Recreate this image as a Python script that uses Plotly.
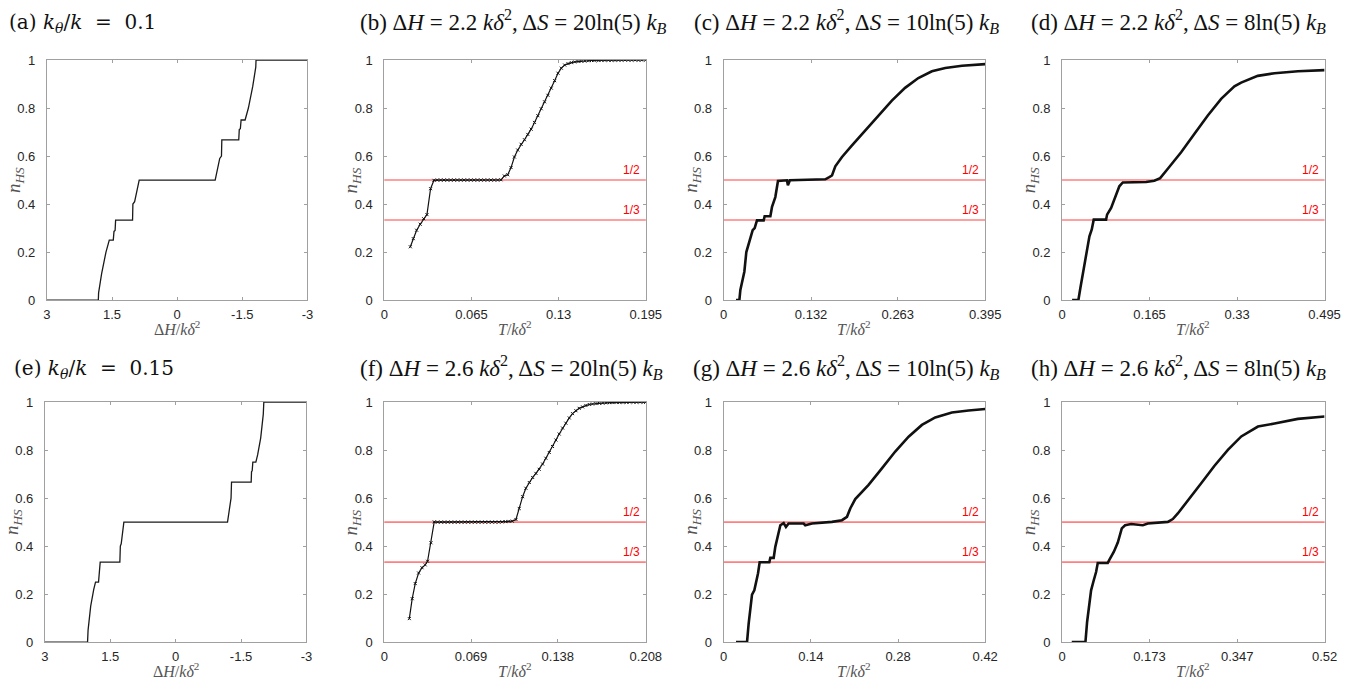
import plotly.graph_objects as go

W, H = 1351, 689
# the photographed picture is slightly scaled/offset relative to the page; compensate
SX, OX = 0.987, 4.0
SY, OY = 0.978, 7.0

# ---------------- data ----------------
# (a) k_theta/k = 0.1
a_dH = [3, 1.816, 1.81, 1.74, 1.64, 1.564, 1.472, 1.455, 1.43, 1.418, 1.028, 1.02, 0.98, 0.875,
        -0.875, -0.98, -1.02, -1.028, -1.418, -1.43, -1.455, -1.472, -1.564, -1.64, -1.74, -1.81, -1.816, -3]
a_n = [0, 0, 0.03, 0.11, 0.2, 0.25, 0.25, 0.286, 0.29, 0.333, 0.333, 0.4, 0.41, 0.5,
       0.5, 0.59, 0.6, 0.667, 0.667, 0.71, 0.714, 0.75, 0.75, 0.8, 0.89, 0.97, 1, 1]
# (e) k_theta/k = 0.15
e_dH = [3, 2.022, 2.01, 1.95, 1.88, 1.839, 1.77, 1.755, 1.74, 1.732, 1.281, 1.27, 1.25, 1.189,
        -1.189, -1.25, -1.27, -1.281, -1.732, -1.74, -1.755, -1.77, -1.839, -1.88, -1.95, -2.01, -2.022, -3]
e_n = [0, 0, 0.05, 0.15, 0.22, 0.25, 0.25, 0.286, 0.29, 0.333, 0.333, 0.4, 0.41, 0.5,
       0.5, 0.59, 0.6, 0.667, 0.667, 0.71, 0.714, 0.75, 0.75, 0.78, 0.85, 0.95, 1, 1]

# (b) dH = 2.2, dS = 20 ln5
b_T = [0.0194, 0.0216, 0.0241, 0.0268, 0.0293, 0.0318, 0.0345, 0.037, 0.0395, 0.042, 0.0445, 0.047,
       0.0495, 0.052, 0.0545, 0.057, 0.0595, 0.062, 0.0645, 0.067, 0.0695, 0.072, 0.0745, 0.077,
       0.0795, 0.082, 0.0845, 0.087, 0.0895, 0.092, 0.0945, 0.097, 0.0995, 0.102, 0.1045, 0.107,
       0.1095, 0.112, 0.1145, 0.117, 0.1195, 0.122, 0.1245, 0.127, 0.1295, 0.132, 0.1345, 0.137,
       0.1395, 0.142, 0.1445, 0.147, 0.1495, 0.152, 0.1545, 0.157, 0.1595, 0.162, 0.1645, 0.167,
       0.1695, 0.172, 0.1745, 0.177, 0.1795, 0.182, 0.1845, 0.187, 0.1895, 0.192, 0.195]
b_n = [0.222, 0.256, 0.291, 0.316, 0.339, 0.356, 0.464, 0.499, 0.5, 0.5, 0.5, 0.5,
       0.5, 0.5, 0.5, 0.5, 0.5, 0.5, 0.5, 0.5, 0.5, 0.5, 0.5, 0.5,
       0.5, 0.5, 0.5, 0.501, 0.517, 0.522, 0.552, 0.596, 0.625, 0.649, 0.668, 0.69,
       0.712, 0.74, 0.768, 0.797, 0.826, 0.853, 0.883, 0.914, 0.945, 0.966, 0.979, 0.985,
       0.989, 0.992, 0.994, 0.995, 0.996, 0.997, 0.998, 0.998, 0.998, 0.999, 0.999, 0.999,
       0.999, 0.999, 1.0, 1.0, 1.0, 1.0, 1.0, 1.0, 1.0, 1.0, 1.0]

# (c) dH = 2.2, dS = 10 ln5
c_T = [0.0186, 0.0237, 0.0252, 0.0287, 0.0312, 0.0342, 0.0377, 0.0403, 0.0438, 0.0468, 0.0503, 0.0604,
       0.0619, 0.0705, 0.073, 0.078, 0.082, 0.0956, 0.097, 0.1, 0.115, 0.13, 0.1535, 0.1595, 0.1636,
       0.1686, 0.1787, 0.1938, 0.214, 0.234, 0.254, 0.274, 0.294, 0.3145, 0.3347, 0.36, 0.395]
c_n = [0, 0, 0.042, 0.09, 0.118, 0.2, 0.235, 0.252, 0.291, 0.3, 0.332, 0.332,
       0.349, 0.349, 0.388, 0.429, 0.496, 0.499, 0.478, 0.499, 0.5, 0.5, 0.503, 0.512, 0.519,
       0.557, 0.596, 0.644, 0.706, 0.769, 0.831, 0.884, 0.925, 0.953, 0.967, 0.976, 0.983]

# (d) dH = 2.2, dS = 8 ln5
d_T = [0.0189, 0.0308, 0.0346, 0.039, 0.0434, 0.0465, 0.0516, 0.056, 0.0597, 0.083, 0.0849, 0.0925,
       0.1, 0.108, 0.1145, 0.149, 0.1585, 0.174, 0.185, 0.1994, 0.2245, 0.2497, 0.2748, 0.3, 0.325,
       0.3377, 0.369, 0.4006, 0.4447, 0.495]
d_n = [0, 0, 0.051, 0.107, 0.155, 0.19, 0.266, 0.294, 0.335, 0.335, 0.356, 0.384,
       0.425, 0.474, 0.49, 0.494, 0.492, 0.497, 0.508, 0.547, 0.616, 0.693, 0.769, 0.838, 0.89,
       0.906, 0.934, 0.945, 0.953, 0.958]

# (f) dH = 2.6, dS = 20 ln5
f_T = [0.0199, 0.0222, 0.0246, 0.0273, 0.03, 0.0325, 0.0344, 0.0371, 0.0397, 0.0424, 0.0451, 0.0478,
       0.0505, 0.0532, 0.0559, 0.0586, 0.0613, 0.064, 0.0667, 0.0694, 0.0721, 0.0748, 0.0775, 0.0802,
       0.0829, 0.0856, 0.0883, 0.091, 0.0937, 0.0964, 0.0991, 0.1018, 0.1047, 0.1073, 0.11, 0.1126,
       0.1153, 0.118, 0.1206, 0.1232, 0.1259, 0.1285, 0.1312, 0.1338, 0.1365, 0.1391, 0.1418, 0.1444,
       0.1471, 0.1497, 0.1524, 0.155, 0.1577, 0.1603, 0.163, 0.1656, 0.1683, 0.171, 0.1737, 0.1764,
       0.1791, 0.1818, 0.1845, 0.1872, 0.1899, 0.1926, 0.1953, 0.198, 0.2007, 0.2034, 0.2061, 0.208]
f_n = [0.098, 0.181, 0.244, 0.288, 0.31, 0.322, 0.337, 0.414, 0.501, 0.5, 0.5, 0.5,
       0.5, 0.5, 0.5, 0.5, 0.5, 0.5, 0.5, 0.5, 0.5, 0.5, 0.5, 0.5,
       0.5, 0.5, 0.5, 0.5, 0.501, 0.502, 0.503, 0.504, 0.511, 0.557, 0.606, 0.641,
       0.665, 0.686, 0.703, 0.72, 0.742, 0.766, 0.79, 0.815, 0.842, 0.867, 0.892, 0.912,
       0.934, 0.952, 0.964, 0.974, 0.98, 0.986, 0.99, 0.992, 0.994, 0.995, 0.996, 0.997,
       0.998, 0.998, 0.999, 0.999, 0.999, 0.999, 1.0, 1.0, 1.0, 1.0, 1.0, 1.0]

# (g) dH = 2.6, dS = 10 ln5
g_T = [0.0198, 0.0375, 0.0401, 0.0428, 0.0455, 0.0492, 0.0519, 0.0551, 0.0578, 0.0733, 0.0749, 0.0803,
       0.0829, 0.0872, 0.091, 0.0963, 0.1, 0.1043, 0.1284, 0.131, 0.1418, 0.1739, 0.19, 0.198, 0.2033,
       0.2113, 0.2327, 0.2541, 0.2755, 0.297, 0.3184, 0.3398, 0.3665, 0.3933, 0.42]
g_n = [0, 0, 0.077, 0.139, 0.198, 0.216, 0.248, 0.286, 0.333, 0.333, 0.351, 0.351,
       0.397, 0.439, 0.487, 0.496, 0.48, 0.494, 0.494, 0.487, 0.494, 0.501, 0.508, 0.522, 0.557,
       0.596, 0.655, 0.724, 0.794, 0.856, 0.905, 0.936, 0.957, 0.965, 0.971]

# (h) dH = 2.6, dS = 8 ln5
h_T = [0.0192, 0.0463, 0.0496, 0.0542, 0.0575, 0.0628, 0.0674, 0.0707, 0.0905, 0.0939, 0.1024, 0.1104,
       0.1183, 0.1249, 0.1368, 0.16, 0.1699, 0.2095, 0.2194, 0.2293, 0.2492, 0.2756, 0.302, 0.3285,
       0.355, 0.388, 0.421, 0.467, 0.52]
h_n = [0, 0, 0.084, 0.174, 0.216, 0.258, 0.292, 0.33, 0.33, 0.344, 0.376, 0.415,
       0.474, 0.487, 0.492, 0.487, 0.494, 0.501, 0.513, 0.536, 0.592, 0.662, 0.735, 0.801,
       0.857, 0.898, 0.911, 0.93, 0.94]

# tick labels
a_ticks = [3, 1.5, 0, -1.5, -3]
a_ticktext = ["3", "1.5", "0", "-1.5", "-3"]
b_ticks = [0, 0.065, 0.13, 0.195]
c_ticks = [0, 0.132, 0.263, 0.395]
d_ticks = [0, 0.165, 0.33, 0.495]
f_ticks = [0, 0.069, 0.138, 0.208]
g_ticks = [0, 0.14, 0.28, 0.42]
h_ticks = [0, 0.173, 0.347, 0.52]
y_ticks = [0, 0.2, 0.4, 0.6, 0.8, 1]
y_ticktext = ["0", "0.2", "0.4", "0.6", "0.8", "1"]
fractions = [1 / 2, 1 / 3]
fraction_labels = ["1/2", "1/3"]

# ---------------- layout helpers ----------------
SERIF = "Liberation Serif, Times New Roman, serif"
MATHSERIF = "DejaVu Serif, serif"
SANS = "Liberation Sans, Arial, sans-serif"

def fx(px):  # reference pixel -> paper fraction
    return ((px - OX) / SX) / W

def fy(py):
    return 1 - ((py - OY) / SY) / H

top_row = (60, 300)
bot_row = (402, 642)

panels = [
    dict(x=a_dH, y=a_n, rng=[3, -3], tv=a_ticks, tt=a_ticktext, px=(47, 308), row=top_row,
         title="(a) <i>k</i><sub><i>θ</i></sub>/<i>k</i>&nbsp; = &nbsp;0.1", tpos=("left", 7, 23), tfont=MATHSERIF, tsize=20,
         xl="Δ<i>H</i>/<i>kδ</i><sup>2</sup>", red=False, kind="step"),
    dict(x=b_T, y=b_n, rng=[0, 0.195], tv=b_ticks, tt=[str(v) for v in b_ticks], px=(385, 647), row=top_row,
         title="(b) Δ<i>H</i> = 2.2 <i>kδ</i><sup>2</sup>, Δ<i>S</i> = 20ln(5) <i>k</i><sub><i>B</i></sub>",
         tpos=("center", 514, 21), tfont=SERIF, tsize=23, xl="<i>T</i>/<i>kδ</i><sup>2</sup>", red=True, kind="sparse"),
    dict(x=c_T, y=c_n, rng=[0, 0.395], tv=c_ticks, tt=[str(v) for v in c_ticks], px=(725, 987), row=top_row,
         title="(c) Δ<i>H</i> = 2.2 <i>kδ</i><sup>2</sup>, Δ<i>S</i> = 10ln(5) <i>k</i><sub><i>B</i></sub>",
         tpos=("center", 848, 21), tfont=SERIF, tsize=23, xl="<i>T</i>/<i>kδ</i><sup>2</sup>", red=True, kind="dense"),
    dict(x=d_T, y=d_n, rng=[0, 0.495], tv=d_ticks, tt=[str(v) for v in d_ticks], px=(1064, 1327), row=top_row,
         title="(d) Δ<i>H</i> = 2.2 <i>kδ</i><sup>2</sup>, Δ<i>S</i> = 8ln(5) <i>k</i><sub><i>B</i></sub>",
         tpos=("center", 1181, 21), tfont=SERIF, tsize=23, xl="<i>T</i>/<i>kδ</i><sup>2</sup>", red=True, kind="dense"),
    dict(x=e_dH, y=e_n, rng=[3, -3], tv=a_ticks, tt=a_ticktext, px=(45, 307), row=bot_row,
         title="(e) <i>k</i><sub><i>θ</i></sub>/<i>k</i>&nbsp; = &nbsp;0.15", tpos=("left", 12, 369), tfont=MATHSERIF, tsize=20,
         xl="Δ<i>H</i>/<i>kδ</i><sup>2</sup>", red=False, kind="step"),
    dict(x=f_T, y=f_n, rng=[0, 0.208], tv=f_ticks, tt=[str(v) for v in f_ticks], px=(385, 647), row=bot_row,
         title="(f) Δ<i>H</i> = 2.6 <i>kδ</i><sup>2</sup>, Δ<i>S</i> = 20ln(5) <i>k</i><sub><i>B</i></sub>",
         tpos=("center", 512, 367), tfont=SERIF, tsize=23, xl="<i>T</i>/<i>kδ</i><sup>2</sup>", red=True, kind="sparse"),
    dict(x=g_T, y=g_n, rng=[0, 0.42], tv=g_ticks, tt=[str(v) for v in g_ticks], px=(725, 987), row=bot_row,
         title="(g) Δ<i>H</i> = 2.6 <i>kδ</i><sup>2</sup>, Δ<i>S</i> = 10ln(5) <i>k</i><sub><i>B</i></sub>",
         tpos=("center", 848, 367), tfont=SERIF, tsize=23, xl="<i>T</i>/<i>kδ</i><sup>2</sup>", red=True, kind="dense"),
    dict(x=h_T, y=h_n, rng=[0, 0.52], tv=h_ticks, tt=[str(v) for v in h_ticks], px=(1064, 1327), row=bot_row,
         title="(h) Δ<i>H</i> = 2.6 <i>kδ</i><sup>2</sup>, Δ<i>S</i> = 8ln(5) <i>k</i><sub><i>B</i></sub>",
         tpos=("center", 1181, 367), tfont=SERIF, tsize=23, xl="<i>T</i>/<i>kδ</i><sup>2</sup>", red=True, kind="dense"),
]

fig = go.Figure()
layout = dict(width=W, height=H, margin=dict(l=0, r=0, t=0, b=0), paper_bgcolor="white",
              plot_bgcolor="white", showlegend=False)
annotations = []
shapes = []

AXIS_COLOR = "#a0a0a0"
TICK_FONT = dict(family=SANS, size=13, color="#262626")

for i, p in enumerate(panels):
    n = i + 1
    xa = "xaxis" if n == 1 else f"xaxis{n}"
    ya = "yaxis" if n == 1 else f"yaxis{n}"
    xr = "x" if n == 1 else f"x{n}"
    yr = "y" if n == 1 else f"y{n}"
    x0, x1 = p["px"]
    ytop, ybot = p["row"]
    layout[xa] = dict(domain=[fx(x0), fx(x1)], anchor=yr, range=p["rng"], tickvals=p["tv"], ticktext=p["tt"],
                      showgrid=False, zeroline=False, showline=True, linecolor=AXIS_COLOR, linewidth=1,
                      mirror="ticks", ticks="inside", ticklen=3, tickcolor=AXIS_COLOR, tickfont=TICK_FONT,
                      ticklabelstandoff=2)
    layout[ya] = dict(domain=[fy(ybot), fy(ytop)], anchor=xr, range=[0, 1], tickvals=y_ticks, ticktext=y_ticktext,
                      showgrid=False, zeroline=False, showline=True, linecolor=AXIS_COLOR, linewidth=1,
                      mirror="ticks", ticks="inside", ticklen=3, tickcolor=AXIS_COLOR, tickfont=TICK_FONT,
                      ticklabelstandoff=8)

    if p["red"]:
        for fv, fl in zip(fractions, fraction_labels):
            shapes.append(dict(type="line", xref=f"{xr} domain", yref=yr, x0=0, x1=1, y0=fv, y1=fv,
                               line=dict(color="rgba(255,60,60,0.65)", width=1.6), layer="below"))
            annotations.append(dict(xref=f"{xr} domain", yref=yr, x=0.985, y=fv, xanchor="right",
                                    yanchor="bottom", yshift=1, text=fl, showarrow=False,
                                    font=dict(family=SANS, size=12, color="#ff0000")))

    if p["kind"] == "step":
        fig.add_trace(go.Scatter(x=p["x"], y=p["y"], mode="lines", xaxis=xr, yaxis=yr,
                                 line=dict(color="#1a1a1a", width=1.3)))
    elif p["kind"] == "sparse":
        fig.add_trace(go.Scatter(x=p["x"], y=p["y"], mode="lines+markers", xaxis=xr, yaxis=yr,
                                 line=dict(color="#111111", width=1.2),
                                 marker=dict(symbol="x-thin", size=3, color="#111111",
                                             line=dict(width=1, color="#111111"))))
    else:
        fig.add_trace(go.Scatter(x=p["x"], y=p["y"], mode="lines", xaxis=xr, yaxis=yr,
                                 line=dict(color="#111111", width=2.6)))

    # title
    anchor, tx, ty = p["tpos"]
    annotations.append(dict(xref="paper", yref="paper", x=fx(tx), y=fy(ty), xanchor=anchor, yanchor="middle",
                            text=p["title"], showarrow=False,
                            font=dict(family=p["tfont"], size=p["tsize"], color="#111111")))
    # x label
    annotations.append(dict(xref="paper", yref="paper", x=fx((x0 + x1) / 2), y=fy(ybot + 28),
                            xanchor="center", yanchor="middle", text=p["xl"], showarrow=False,
                            font=dict(family=SERIF, size=16, color="#555555")))
    # y label
    annotations.append(dict(xref="paper", yref="paper", x=fx(x0 - 32), y=fy((ytop + ybot) / 2),
                            xanchor="center", yanchor="middle", text="<i>n</i><sub><i>HS</i></sub>",
                            textangle=-90, showarrow=False,
                            font=dict(family=SERIF, size=19, color="#555555")))

layout["annotations"] = annotations
layout["shapes"] = shapes
fig.update_layout(**layout)
fig.write_html("out.html", config={"displayModeBar": False},
               post_script="document.body.style.margin='0px';")
